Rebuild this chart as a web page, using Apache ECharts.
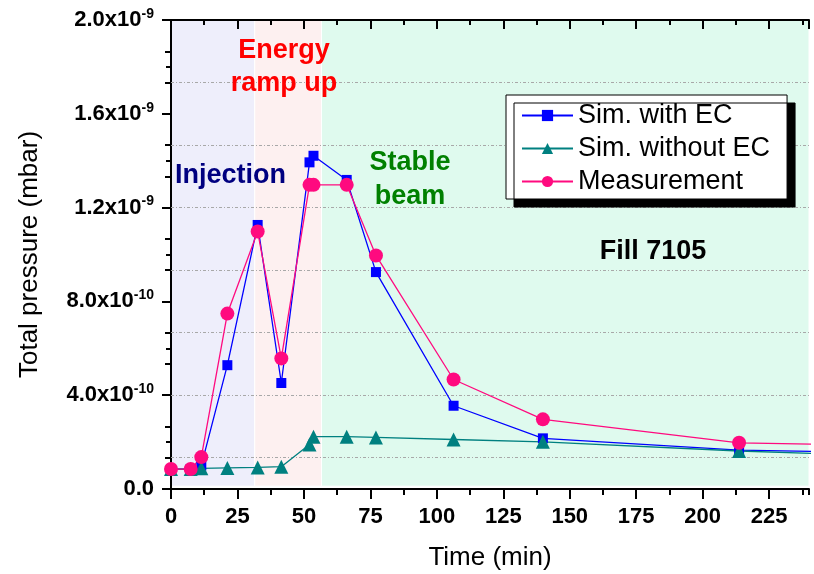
<!DOCTYPE html>
<html>
<head>
<meta charset="utf-8">
<script src="https://cdn.jsdelivr.net/npm/echarts@6/dist/echarts.min.js"></script>
<style>
  html, body { margin: 0; padding: 0; background: #fff; }
  #chart { width: 814px; height: 574px; }
</style>
</head>
<body>
<div id="chart"></div>
<script>
// Fill 7105: total pressure vs. time since start of fill
const timeMin      = [0, 7.4, 11.4, 21.2, 32.6, 41.5, 52.1, 53.6, 66.1, 77.1, 106.3, 139.9, 213.7, 250];
const simWithEC    = [8.5e-11, 8.5e-11, 1.0e-10, 5.28e-10, 1.126e-9, 4.52e-10, 1.393e-9, 1.421e-9, 1.318e-9, 9.25e-10, 3.55e-10, 2.16e-10, 1.66e-10, 1.58e-10];
const simWithoutEC = [8.5e-11, 8.5e-11, 8.8e-11, 9.0e-11, 9.2e-11, 9.5e-11, 1.90e-10, 2.23e-10, 2.23e-10, 2.20e-10, 2.11e-10, 2.01e-10, 1.62e-10, 1.48e-10];
const measurement  = [8.5e-11, 8.5e-11, 1.36e-10, 7.48e-10, 1.098e-9, 5.57e-10, 1.297e-9, 1.297e-9, 1.297e-9, 9.96e-10, 4.67e-10, 2.97e-10, 1.97e-10, 1.89e-10];

const seriesNames = ['Sim. with EC', 'Sim. without EC', 'Measurement'];

// Machine phases (start/end in minutes)
const phaseBounds = [0, 31.5, 56.6, 240];
const phaseColors = ['#EEEEFB', '#FDF0F0', '#DFFAEE'];

// Axis ranges
const xMin = 0, xMax = 240, xStep = 25;
const yMin = 0, yMax = 2e-9, yStep = 4e-10;
const rightStep = yMax / 15;

const FONT = 'Liberation Sans, Arial, sans-serif';

function pairs(ys) { return timeMin.map((t, i) => [t, ys[i]]); }

function sciLabel(v) {
  if (Math.abs(v) < 1e-15) return '{m|0.0}';
  const e = Math.floor(Math.log10(v) + 1e-9);
  const m = (v / Math.pow(10, e)).toFixed(1);
  return '{m|' + m + 'x10}{e|' + e + '}';
}

// dash-dot reference levels at odd multiples of rightStep
const refLevels = [];
for (let k = 1; k < 15; k += 2) refLevels.push(k * rightStep);

const bands = [];
for (let i = 0; i < phaseColors.length; i++) {
  bands.push([
    { xAxis: phaseBounds[i], yAxis: 1.2e-11, itemStyle: { color: phaseColors[i] } },
    { xAxis: phaseBounds[i + 1], yAxis: yMax }
  ]);
}

const axisBlack = { color: '#000', width: 2 };

const option = {
  animation: false,
  backgroundColor: '#fff',
  grid: { left: 171, right: 5, top: 20, bottom: 85, containLabel: false, outerBoundsMode: 'none' },
  xAxis: [
    {
      type: 'value', position: 'bottom', min: xMin, max: xMax, interval: xStep,
      axisLine: { lineStyle: axisBlack },
      axisTick: { inside: false, length: 10, lineStyle: axisBlack },
      axisLabel: { margin: 17, color: '#000', fontFamily: FONT, fontSize: 22, fontWeight: 'bold', showMaxLabel: false },
      splitLine: { show: false },
      name: 'Time (min)', nameLocation: 'middle', nameGap: 56,
      nameTextStyle: { color: '#000', fontFamily: FONT, fontSize: 26 }
    },
    {
      type: 'value', position: 'bottom', min: xMin, max: xMax, interval: xStep / 2,
      axisLine: { show: false },
      axisTick: { inside: false, length: 6, lineStyle: axisBlack },
      axisLabel: { show: false }, splitLine: { show: false }
    },
    {
      type: 'value', position: 'top', min: xMin, max: xMax, interval: xStep,
      axisLine: { lineStyle: axisBlack },
      axisTick: { inside: true, length: 9, lineStyle: axisBlack },
      axisLabel: { show: false }, splitLine: { show: false }
    },
    {
      type: 'value', position: 'top', min: xMin, max: xMax, interval: xStep / 2,
      axisLine: { show: false },
      axisTick: { inside: true, length: 5, lineStyle: axisBlack },
      axisLabel: { show: false }, splitLine: { show: false }
    }
  ],
  yAxis: [
    {
      type: 'value', position: 'left', min: yMin, max: yMax, interval: yStep,
      axisLine: { lineStyle: axisBlack },
      axisTick: { inside: false, length: 9, lineStyle: axisBlack },
      minorTick: { show: true, splitNumber: 2, length: 5, lineStyle: axisBlack },
      axisLabel: {
        margin: 17, formatter: sciLabel,
        rich: {
          m: { color: '#000', fontFamily: FONT, fontSize: 22, fontWeight: 'bold' },
          e: { color: '#000', fontFamily: FONT, fontSize: 14, fontWeight: 'bold', padding: [0, 0, 12, 0] }
        }
      },
      splitLine: { show: false },
      name: 'Total pressure (mbar)', nameLocation: 'middle', nameGap: 128,
      nameTextStyle: { color: '#000', fontFamily: FONT, fontSize: 26 }
    },
    {
      type: 'value', position: 'right', min: yMin, max: yMax, interval: rightStep,
      axisLine: { show: true, lineStyle: axisBlack },
      axisTick: { inside: true, length: 6, lineStyle: axisBlack },
      axisLabel: { show: false }, splitLine: { show: false }
    }
  ],
  legend: {
    left: 506, top: 95, z: 10,
    orient: 'vertical',
    data: seriesNames,
    backgroundColor: '#fff',
    borderColor: '#000', borderWidth: 1, borderRadius: 0,
    shadowColor: '#000', shadowBlur: 0, shadowOffsetX: 8, shadowOffsetY: 8,
    padding: [7, 17, 4, 15],
    itemGap: 6, itemWidth: 51, itemHeight: 14,
    textStyle: { color: '#000', fontFamily: FONT, fontSize: 27, lineHeight: 27 }
  },
  graphic: [
    { type: 'text', x: 284, y: 34, z: 10,
      style: { text: 'Energy\nramp up', fill: '#FF0000', font: 'bold 27px ' + FONT, align: 'center', verticalAlign: 'top', lineHeight: 33 } },
    { type: 'text', x: 175, y: 176, z: 10,
      style: { text: 'Injection', fill: '#000080', font: 'bold 27px ' + FONT, align: 'left', verticalAlign: 'middle' } },
    { type: 'text', x: 410, y: 146, z: 10,
      style: { text: 'Stable\nbeam', fill: '#008000', font: 'bold 27px ' + FONT, align: 'center', verticalAlign: 'top', lineHeight: 34 } },
    { type: 'text', x: 653, y: 252, z: 10,
      style: { text: 'Fill 7105', fill: '#000', font: 'bold 27px ' + FONT, align: 'center', verticalAlign: 'middle' } }
  ],
  series: [
    {
      // phase backgrounds
      name: 'phases', type: 'line', data: [], z: 0, silent: true,
      markArea: { silent: true, z: 0, itemStyle: { borderColor: '#fff', borderWidth: 1 }, data: bands }
    },
    {
      // dash-dot reference levels
      name: 'levels', type: 'line', data: [], z: 1, silent: true,
      markLine: {
        silent: true, z: 1, symbol: 'none', label: { show: false }, animation: false,
        precision: 20,
        lineStyle: { color: '#a8a8a8', type: [3, 2, 1, 2], width: 1 },
        emphasis: { disabled: true },
        data: refLevels.map(v => ({ yAxis: v }))
      }
    },
    {
      name: seriesNames[0], type: 'line', xAxisIndex: 0, yAxisIndex: 0, z: 3,
      data: pairs(simWithEC),
      symbol: 'rect', symbolSize: 10,
      itemStyle: { color: '#0000FF' },
      lineStyle: { color: '#0000FF', width: 1.3 }
    },
    {
      name: seriesNames[1], type: 'line', xAxisIndex: 0, yAxisIndex: 0, z: 3,
      data: pairs(simWithoutEC),
      symbol: 'triangle', symbolSize: 14,
      itemStyle: { color: '#008080' },
      lineStyle: { color: '#008080', width: 1.3 }
    },
    {
      name: seriesNames[2], type: 'line', xAxisIndex: 0, yAxisIndex: 0, z: 3,
      data: pairs(measurement),
      symbol: 'circle', symbolSize: 14,
      itemStyle: { color: '#FF0A7F' },
      lineStyle: { color: '#FF0A7F', width: 1.3 }
    }
  ]
};

const chart = echarts.init(document.getElementById('chart'), null, { renderer: 'canvas' });
chart.setOption(option);
</script>
</body>
</html>
